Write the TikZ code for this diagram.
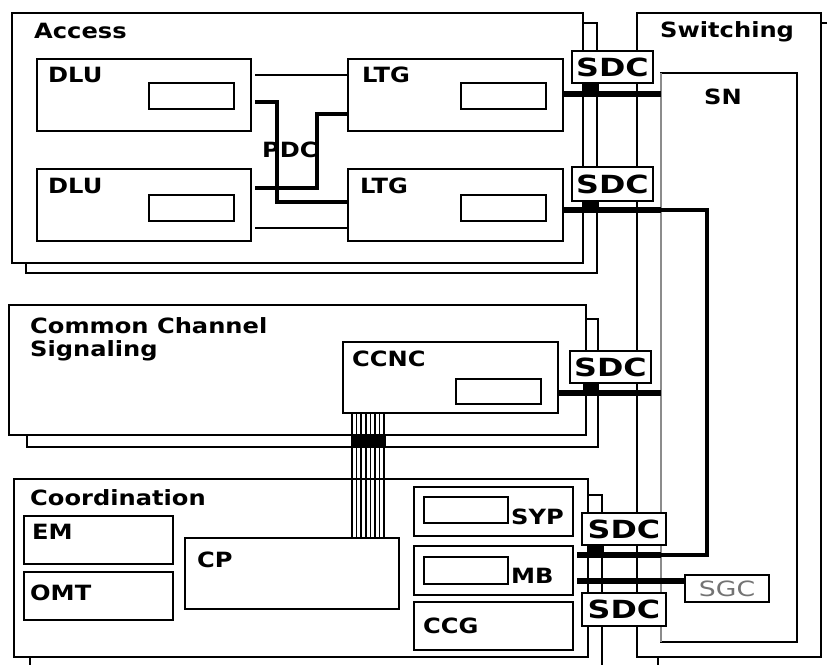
\documentclass[tikz,border=0pt]{standalone}
\usepackage{fontspec}
\usetikzlibrary{calc}
\newfontfamily\labfont{DejaVu Sans}[FakeStretch=1.15]
\newfontfamily\sdcfont{DejaVu Sans}[FakeStretch=1.27]
\newcommand\rbox[6]{\node[#1, minimum width={#4-#2}, minimum height={#5-#3}] (#6) at ({(#2+#4)/2},{(#3+#5)/2}) {};}
\tikzset{
  box/.style={draw, line width=1.9pt, fill=white, inner sep=0pt, outer sep=0pt},
  sdcbox/.style={box, font=\sdcfont\bfseries\fontsize{25}{25}\selectfont},
  sgcbox/.style={box, text=black!55, font=\sdcfont\fontsize{21}{21}\selectfont},
  blk/.style={draw, fill=black, line width=0.5pt, inner sep=0pt, outer sep=0pt},
  lbl/.style={anchor=base west, inner sep=0pt, font=\labfont\bfseries\fontsize{21}{21}\selectfont},
  wire/.style={line width=1.9pt},
  link/.style={line width=3.6pt},
  bus/.style={line width=5.8pt},
}
\begin{document}
\begin{tikzpicture}[x=1pt,y=-1pt]
\useasboundingbox (0,0) rectangle (827,664);
\clip (0,0) rectangle (827,664);
% Switching
\rbox{box}{658}{23}{850}{700}{swsh}
\rbox{box}{637}{13}{821}{657}{sw}
\rbox{box}{661}{73}{797}{642}{sn}
\draw[black!45, line width=1.4pt] (sn.north west) -- (sn.south west);
\node[lbl] (swl) at (660,37) {Switching};
\node[lbl] (snl) at (704,104) {SN};
% Access
\rbox{box}{26}{23}{597}{273}{accsh}
\rbox{box}{12}{13}{583}{263}{acc}
\node[lbl] (accl) at (34,38) {Access};
\rbox{box}{37}{59}{251}{131}{dlu1}
\rbox{box}{149}{83}{234}{109}{dlu1in}
\rbox{box}{37}{169}{251}{241}{dlu2}
\rbox{box}{149}{195}{234}{221}{dlu2in}
\rbox{box}{348}{59}{563}{131}{ltg1}
\rbox{box}{461}{83}{546}{109}{ltg1in}
\rbox{box}{348}{169}{563}{241}{ltg2}
\rbox{box}{461}{195}{546}{221}{ltg2in}
\node[lbl] (dlu1l) at (48,82) {DLU};
\node[lbl] (dlu2l) at (48,193) {DLU};
\node[lbl] (ltg1l) at (362,82) {LTG};
\node[lbl] (ltg2l) at (360,193) {LTG};
\node[lbl] (pdcl) at (262,157) {PDC};
\draw[wire] ($(dlu1.east|-0,75)+(4,0)$) -- (ltg1.west|-0,75);
\draw[wire] ($(dlu2.east|-0,228)+(4,0)$) -- (ltg2.west|-0,228);
\draw[link] ($(dlu1.east|-0,102)+(4,0)$) -- (277,102) |- (ltg2.west|-0,202);
\draw[link] ($(dlu2.east|-0,188)+(4,0)$) -- (317,188) |- (ltg1.west|-0,114);
% Common Channel Signaling
\rbox{box}{27}{319}{598}{447}{ccssh}
\rbox{box}{9}{305}{586}{435}{ccs}
\node[lbl] (ccsl1) at (30,333) {Common Channel};
\node[lbl] (ccsl2) at (30,356) {Signaling};
\rbox{box}{343}{342}{558}{413}{ccnc}
\rbox{box}{456}{379}{541}{404}{ccncin}
\node[lbl] (ccncl) at (352,366) {CCNC};
% Coordination
\rbox{box}{30}{495}{602}{700}{coosh}
\rbox{box}{14}{479}{588}{657}{coo}
\node[lbl] (cool) at (30,505) {Coordination};
\rbox{box}{24}{516}{173}{564}{em}
\rbox{box}{24}{572}{173}{620}{omt}
\rbox{box}{185}{538}{399}{609}{cp}
\rbox{box}{414}{487}{573}{536}{syp}
\rbox{box}{424}{497}{508}{523}{sypin}
\rbox{box}{414}{546}{573}{595}{mb}
\rbox{box}{424}{557}{508}{584}{mbin}
\rbox{box}{414}{602}{573}{650}{ccg}
\node[lbl] (eml) at (32,539) {EM};
\node[lbl] (omtl) at (30,600) {OMT};
\node[lbl] (cpl) at (197,567) {CP};
\node[lbl] (sypl) at (511,524) {SYP};
\node[lbl] (mbl) at (511,583) {MB};
\node[lbl] (ccgl) at (423,633) {CCG};
% bundle CCNC -> CP
\foreach \i in {0,...,7} {
  \draw[line width=1.7pt] (352+\i*4.6,0 |- ccnc.south) -- (352+\i*4.6,0 |- cp.north);
}
\rbox{blk}{351}{435}{385}{447}{bblk}
% SDC boxes
\node[sdcbox, minimum width=81, minimum height=32] (sdc1) at (612.5,67) {SDC};
\node[sdcbox, minimum width=81, minimum height=34] (sdc2) at (612.5,184) {SDC};
\node[sdcbox, minimum width=81, minimum height=32] (sdc3) at (610.5,367) {SDC};
\node[sdcbox, minimum width=84, minimum height=32] (sdc4) at (624,529) {SDC};
\node[sdcbox, minimum width=84, minimum height=33] (sdc5) at (624,609.5) {SDC};
\node[sgcbox, minimum width=84, minimum height=27] (sgc) at (727,588.5) {SGC};
% blocks under SDC
\rbox{blk}{583}{83}{598}{94}{blk1}
\rbox{blk}{583}{201}{598}{210}{blk2}
\rbox{blk}{583}{383}{598}{393}{blk3}
\rbox{blk}{587}{545}{603}{555}{blk4}
% buses
\draw[bus] (ltg1.east|-0,94) -- (sn.west|-0,94);
\draw[bus] (ltg2.east|-0,210) -- (sn.west|-0,210);
\draw[bus] (ccnc.east|-0,393) -- (sn.west|-0,393);
\draw[link] (sn.west|-0,210) -| (707,555) -- (sn.west|-0,555);
\draw[bus] ($(mb.east|-0,555)+(4,0)$) -- (sn.west|-0,555);
\draw[bus] ($(mb.east|-0,581)+(4,0)$) -- (sgc.west|-0,581);
\end{tikzpicture}
\end{document}
